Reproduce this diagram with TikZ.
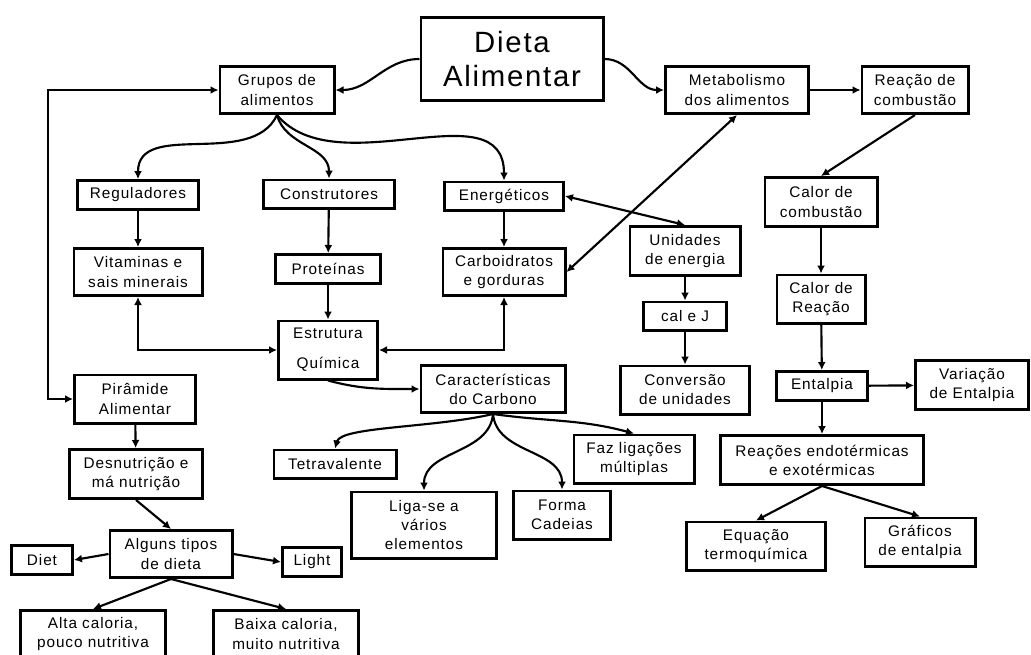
\documentclass[tikz,border=0pt]{standalone}
\usepackage{fontspec}
\setmainfont{Liberation Sans}[LetterSpace=6]
\usetikzlibrary{arrows.meta}
\tikzset{
  caixa/.style={draw, line width=2.2pt, align=center, inner sep=0pt,
    font=\fontsize{11.5}{14.3}\selectfont},
  tam/.style 2 args={minimum width=#1*0.75pt-2.2pt, minimum height=#2*0.75pt-2.2pt},
  seta/.style={line width=1.6pt, -{Latex[length=6pt,width=6pt]}},
  seta2/.style={line width=1.6pt, {Latex[length=6pt,width=6pt]}-{Latex[length=6pt,width=6pt]}},
}

\begin{document}
\begin{tikzpicture}[x=0.75pt,y=-0.75pt]
      \useasboundingbox (0,0) rectangle (1031,654);

      % Central box
      \node[caixa, tam={185}{86}, font=\fontsize{22}{25}\selectfont] (dieta) at (512,59) {Dieta\\Alimentar};

      % Left branch: food groups
      \node[caixa, tam={117}{50}] (grupos) at (277,90) {Grupos de\\alimentos};
      \node[caixa, tam={124}{32}] (regul) at (138,195) {Reguladores};
      \node[caixa, tam={134}{31}] (constr) at (329,194) {Construtores};
      \node[caixa, tam={122}{31}] (energ) at (504,196) {Energéticos};
      \node[caixa, tam={131}{50}] (vitam) at (138,272) {Vitaminas e\\sais minerais};
      \node[caixa, tam={108}{32}] (prot) at (328,269) {Proteínas};
      \node[caixa, tam={125}{50}] (carb) at (504,272) {Carboidratos\\e gorduras};
      \node[caixa, tam={102}{61}] (estrut) at (328,350) {Estrutura\\[8pt]Química};

      % Carbon
      \node[caixa, tam={147}{50}] (caract) at (493,389) {Características\\do Carbono};
      \node[caixa, tam={125}{31}] (tetra) at (335,464) {Tetravalente};
      \node[caixa, tam={148}{69}] (liga) at (424,525) {Liga-se a\\vários\\elementos};
      \node[caixa, tam={100}{51}] (forma) at (562,515) {Forma\\Cadeias};
      \node[caixa, tam={123}{51}] (faz) at (634,459) {Faz ligações\\múltiplas};

      % Pyramid and diets
      \node[caixa, tam={124}{51}] (piram) at (135,399) {Pirâmide\\Alimentar};
      \node[caixa, tam={136}{52}] (desnut) at (136,474) {Desnutrição e\\má nutrição};
      \node[caixa, tam={125}{50}] (alguns) at (171,554) {Alguns tipos\\de dieta};
      \node[caixa, tam={64}{32}] (diet) at (42,560) {Diet};
      \node[caixa, tam={62}{32}] (light) at (312,562) {Light};
      \node[caixa, tam={148}{50}] (alta) at (93,634) {Alta caloria,\\pouco nutritiva};
      \node[caixa, tam={148}{50}] (baixa) at (286,634) {Baixa caloria,\\muito nutritiva};

      % Right branch: metabolism
      \node[caixa, tam={146}{50}] (metab) at (737,90) {Metabolismo\\dos alimentos};
      \node[caixa, tam={109}{50}] (reacomb) at (915,90) {Reação de\\combustão};
      \node[caixa, tam={113}{52}] (unid) at (685,251) {Unidades\\de energia};
      \node[caixa, tam={86}{31}] (calj) at (685,316) {cal e J};
      \node[caixa, tam={132}{51}] (conv) at (685,390) {Conversão\\de unidades};
      \node[caixa, tam={115}{52}] (calcomb) at (821,202) {Calor de\\combustão};
      \node[caixa, tam={91}{51}] (calreac) at (821,299) {Calor de\\Reação};
      \node[caixa, tam={94}{32}] (ental) at (822,386) {Entalpia};
      \node[caixa, tam={116}{52}] (varia) at (972,385) {Variação\\de Entalpia};
      \node[caixa, tam={206}{52}] (reacoes) at (822,460) {Reações endotérmicas\\e exotérmicas};
      \node[caixa, tam={142}{51}] (equa) at (756,546) {Equação\\termoquímica};
      \node[caixa, tam={113}{51}] (graf) at (920,542) {Gráficos\\de entalpia};

      \coordinate (esq) at (48,0);

      % Connectors
      \draw[seta] (dieta.west) to[out=180,in=0] (grupos.east);
      \draw[seta] (dieta.east) to[out=0,in=180] (metab.west);
      \draw[seta] (grupos.south) to[out=-115,in=90] (regul.north);
      \draw[seta] (grupos.south) to[out=-75,in=90] (constr.north);
      \draw[seta] (grupos.south) to[out=-50,in=90] (energ.north);
      \draw[seta] (regul) -- (vitam);
      \draw[seta] (constr) -- (prot);
      \draw[seta] (energ) -- (carb);
      \draw[seta] (prot) -- (estrut);
      \draw[seta2] (vitam.south) |- (estrut.west);
      \draw[seta2] (carb.south) |- (estrut.east);
      \draw[seta2] (grupos.west) -| (esq |- piram.west) -- (piram.west);
      \draw[seta2] (metab.south) -- (carb.east);
      \draw[seta2] (energ.east) -- (unid.north);
      \draw[seta] (estrut.south) to[out=-15,in=180] (caract.west);
      \draw[seta] (caract.south) .. controls +(-60,14) and +(6,-22) .. (tetra.north);
      \draw[seta] (caract.south) to[out=-95,in=90] (liga.north);
      \draw[seta] (caract.south) to[out=-85,in=90] (forma.north);
      \draw[seta] (caract.south) to[out=-8,in=165] (faz.north);
      \draw[seta] (piram) -- (desnut);
      \draw[seta] (desnut.south) -- (alguns.north);
      \draw[seta] (alguns.west) -- (diet.east);
      \draw[seta] (alguns.east) -- (light.west);
      \draw[seta] (alguns.south) -- (alta.north);
      \draw[seta] (alguns.south) -- (baixa.north);
      \draw[seta] (metab) -- (reacomb);
      \draw[seta] (reacomb.south) -- (calcomb.north);
      \draw[seta] (calcomb) -- (calreac);
      \draw[seta] (calreac) -- (ental);
      \draw[seta] (ental) -- (varia);
      \draw[seta] (ental) -- (reacoes);
      \draw[seta] (reacoes.south) -- (equa.north);
      \draw[seta] (reacoes.south) -- (graf.north);
      \draw[seta] (unid) -- (calj);
      \draw[seta] (calj) -- (conv);
\end{tikzpicture}
\end{document}
